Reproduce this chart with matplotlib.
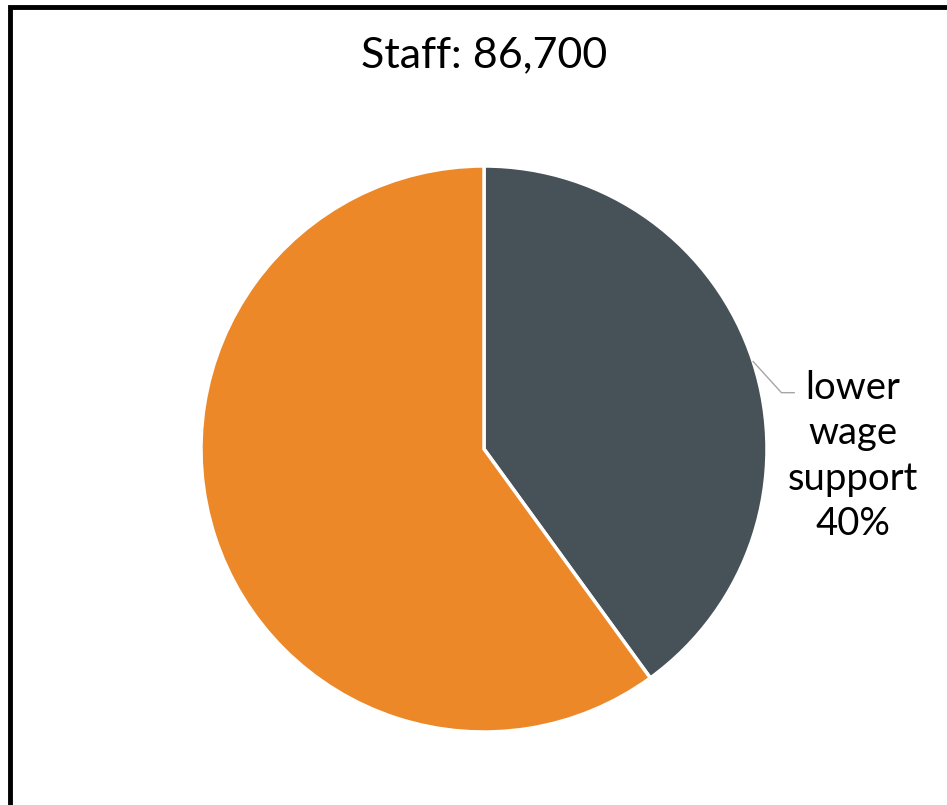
import numpy as np
import matplotlib
matplotlib.use("Agg")
import matplotlib.pyplot as plt
from matplotlib.patches import Rectangle

plt.rcParams['font.family'] = ['Lato', 'DejaVu Sans']

title = "Staff: 86,700"
labels = ["lower\nwage\nsupport", ""]
shares = [40, 60]
colors = ["#475258", "#ED8829"]

fig = plt.figure(figsize=(9.47, 8.05), dpi=100)
ax = fig.add_axes([0, 0, 1, 1])

wedges, _ = ax.pie(shares, colors=colors, startangle=90, counterclock=False,
                   radius=1, wedgeprops=dict(edgecolor="white", linewidth=2.5))
# pie() resets limits, so set them afterwards
ax.set_aspect("auto")
ax.set_xlim(-484 / 283, (947 - 484) / 283)
ax.set_ylim((449 - 805) / 283, 449 / 283)
ax.axis("off")

# label for the first slice with a leader line
w = wedges[0]
mid = np.deg2rad((w.theta1 + w.theta2) / 2)
x0, y0 = np.cos(mid), np.sin(mid)
ax.plot([x0, x0 + 0.1, x0 + 0.145], [y0, y0 - 0.11, y0 - 0.11], color="#A6A6A6", lw=1)
ax.text(1.304, -0.025, labels[0] + "\n" + f"{shares[0]}%", ha="center", va="center",
        fontsize=27.5, linespacing=1.32, color="black")

fig.text(484 / 947, 1 - 55 / 805, title, ha="center", va="center", fontsize=31)

fig.patches.append(Rectangle((10 / 947, -0.1), 1.2, 1 - 7 / 805 + 0.1, transform=fig.transFigure,
                             fill=False, edgecolor="black", linewidth=3.5))

fig.savefig("out.png", dpi=100)
